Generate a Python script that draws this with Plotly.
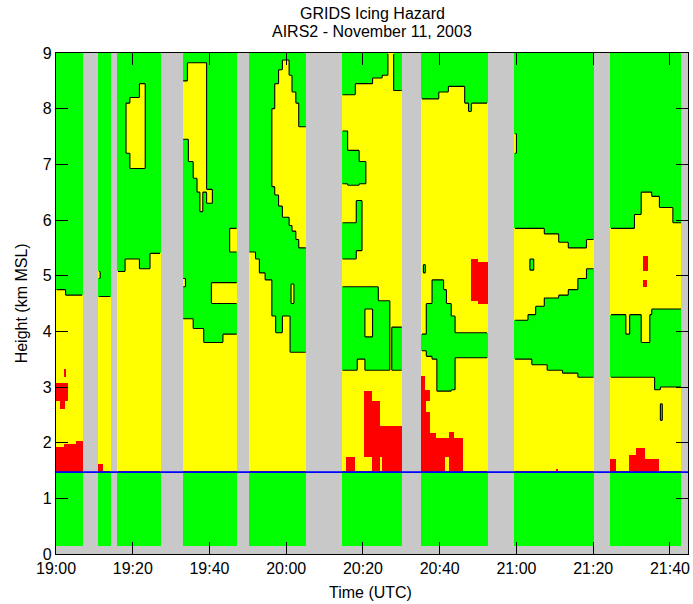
import numpy as np
import plotly.graph_objects as go

# ---------------- data ----------------
tick_minutes = [0, 20, 40, 60, 80, 100, 120, 140, 160]          # minutes after 19:00 UTC
tick_labels = ["19:00", "19:20", "19:40", "20:00", "20:20", "20:40", "21:00", "21:20", "21:40"]
height_ticks = [0, 1, 2, 3, 4, 5, 6, 7, 8, 9]

time_range = [0, 164.7]
height_range = [0, 9]

# profile scans available (minutes after 19:00)
scan_start = [0.0, 11.05, 16.1, 33.0, 50.2, 74.5, 95.3, 119.4, 144.5]
scan_end = [7.05, 14.35, 27.25, 47.25, 65.2, 90.3, 112.4, 140.3, 163.1]
lowest_gate_km = 0.16
highest_gate_km = 9.0
freezing_level_km = 1.47

# hazard category: 1 = none (green), 2 = icing (yellow), 3 = severe icing (red)
# regions: (t_start, t_end, h_bottom, h_top, category), painted in order
scan_A = [
    (0.0, 2.5, 1.47, 4.75, 2), (2.5, 7.05, 1.47, 4.65, 2),
    (0.0, 2.0, 1.47, 1.92, 3), (2.0, 5.3, 1.47, 1.97, 3), (5.3, 7.05, 1.47, 2.03, 3),
    (0.0, 2.95, 2.76, 3.07, 3), (0.9, 2.2, 2.6, 2.76, 3), (2.0, 2.5, 3.18, 3.32, 3),
]
scan_B = [
    (11.05, 14.35, 1.47, 4.62, 2), (11.05, 12.3, 1.47, 1.63, 3), (11.05, 11.6, 4.95, 5.08, 2),
]
scan_C = [
    (16.1, 17.9, 1.47, 5.07, 2), (17.9, 21.8, 1.47, 5.29, 2),
    (21.8, 24.4, 1.47, 5.13, 2), (24.4, 27.25, 1.47, 5.4, 2),
    (18.2, 19.2, 7.2, 8.1, 2), (19.2, 21.8, 6.92, 8.21, 2), (21.8, 23.3, 6.92, 8.45, 2),
]
scan_D = [
    (33.0, 35.7, 1.47, 4.22, 2), (35.7, 38.5, 1.47, 4.05, 2),
    (38.5, 43.5, 1.47, 3.79, 2), (43.5, 47.25, 1.47, 3.95, 2),
    (40.6, 47.25, 4.5, 4.88, 2), (45.2, 47.25, 5.43, 5.85, 2), (33.0, 33.8, 4.8, 4.95, 2),
    (33.0, 34.2, 7.45, 8.5, 2), (34.2, 39.3, 7.45, 8.82, 2), (34.6, 39.3, 7.05, 7.45, 2),
    (35.7, 39.3, 6.75, 7.05, 2), (36.8, 39.3, 6.5, 6.75, 2), (39.3, 40.8, 6.3, 6.55, 2),
    (37.5, 38.3, 6.15, 6.5, 2),
]
scan_E = [
    (50.2, 52.0, 1.47, 5.43, 2), (52.0, 53.0, 1.47, 5.3, 2), (53.0, 54.5, 1.47, 5.05, 2),
    (54.5, 56.2, 1.47, 4.92, 2), (56.2, 57.3, 1.47, 4.28, 2), (57.3, 59.1, 1.47, 3.98, 2),
    (59.1, 61.0, 1.47, 4.28, 2), (61.0, 65.2, 1.47, 3.62, 2),
    (56.2, 57.0, 6.6, 8.0, 2), (57.0, 58.0, 6.45, 8.45, 2), (58.0, 59.0, 6.25, 8.7, 2),
    (59.0, 60.8, 6.05, 8.88, 2), (60.8, 61.5, 5.9, 8.6, 2), (61.5, 62.5, 5.8, 8.3, 2),
    (62.5, 63.3, 5.65, 8.1, 2), (63.3, 65.2, 5.5, 7.67, 2), (61.3, 62.0, 4.5, 4.85, 2),
]
scan_F = [
    (74.5, 78.1, 1.47, 8.25, 2), (78.1, 82.4, 1.47, 8.45, 2), (82.4, 85.0, 1.47, 8.55, 2),
    (85.0, 86.5, 1.47, 8.6, 2), (86.5, 88.0, 1.47, 9.0, 2), (88.0, 90.3, 1.47, 8.33, 2),
    (74.5, 75.9, 6.65, 7.6, 1), (75.9, 79.0, 6.62, 7.25, 1), (79.0, 80.7, 6.65, 7.05, 1),
    (74.5, 78.3, 5.3, 5.95, 1), (78.3, 79.8, 5.45, 6.35, 1),
    (74.5, 78.5, 3.3, 4.8, 1), (78.5, 80.5, 3.5, 4.8, 1), (80.5, 84.0, 3.3, 4.8, 1),
    (80.5, 82.5, 3.9, 4.4, 2), (84.0, 87.0, 3.3, 4.55, 1), (87.5, 90.3, 3.3, 4.08, 1),
    (75.5, 78.1, 1.47, 1.75, 3), (80.3, 82.5, 1.75, 2.93, 3), (82.5, 84.6, 1.47, 2.75, 3),
    (84.6, 85.0, 1.75, 2.3, 3), (85.0, 90.3, 1.47, 2.3, 3),
]
scan_G = [
    (95.3, 99.7, 1.47, 8.17, 2), (99.7, 102.3, 1.47, 8.3, 2), (102.3, 106.6, 1.47, 8.4, 2),
    (106.6, 107.5, 1.47, 8.1, 2), (107.5, 108.3, 1.47, 7.95, 2), (108.3, 112.4, 1.47, 8.1, 2),
    (95.3, 96.6, 3.66, 3.96, 1), (96.6, 97.9, 3.55, 4.5, 1), (97.9, 99.2, 3.49, 4.93, 1),
    (99.2, 101.0, 2.92, 4.93, 1), (101.0, 101.8, 2.92, 4.75, 1), (101.8, 103.1, 2.92, 4.5, 1),
    (103.1, 104.0, 2.95, 4.27, 1), (104.0, 112.4, 3.52, 3.97, 1), (95.8, 96.3, 5.05, 5.2, 1),
    (108.3, 110.0, 4.55, 5.3, 3), (110.0, 112.4, 4.5, 5.25, 3),
    (95.3, 96.3, 1.47, 3.2, 3), (96.3, 97.5, 1.47, 2.95, 3), (96.6, 97.5, 2.55, 2.75, 2),
    (97.5, 98.9, 1.47, 2.17, 3), (98.9, 101.5, 1.47, 2.08, 3), (101.5, 102.4, 1.75, 2.08, 3),
    (102.4, 103.7, 1.47, 2.19, 3), (103.7, 106.1, 1.47, 2.07, 3),
]
scan_H = [
    (119.4, 124.0, 1.47, 3.5, 2), (124.0, 128.0, 1.47, 3.4, 2), (128.0, 132.0, 1.47, 3.3, 2),
    (132.0, 136.0, 1.47, 3.25, 2), (136.0, 140.3, 1.47, 3.17, 2),
    (119.4, 123.0, 4.2, 5.85, 2), (123.0, 125.0, 4.3, 5.85, 2), (125.0, 127.2, 4.45, 5.85, 2),
    (127.2, 130.9, 4.6, 5.75, 2), (130.9, 133.5, 4.65, 5.6, 2), (133.5, 136.0, 4.75, 5.5, 2),
    (136.0, 138.3, 4.95, 5.5, 2), (138.3, 140.3, 5.13, 5.64, 2),
    (123.6, 124.4, 5.1, 5.3, 1), (119.4, 119.9, 7.2, 7.55, 2), (130.3, 130.8, 1.47, 1.53, 3),
]
scan_I = [
    (144.5, 156.0, 1.47, 3.18, 2), (156.0, 157.5, 1.47, 2.95, 2), (157.5, 163.1, 1.47, 3.0, 2),
    (144.5, 150.8, 4.29, 5.85, 2), (150.8, 152.6, 4.29, 6.1, 2), (152.6, 155.2, 4.29, 6.5, 2),
    (155.2, 157.3, 4.4, 6.42, 2), (157.3, 160.8, 4.4, 6.23, 2), (160.8, 163.1, 4.4, 5.94, 2),
    (148.5, 149.5, 3.95, 4.29, 2), (152.5, 154.8, 3.8, 4.29, 2),
    (153.0, 154.3, 5.07, 5.34, 3), (153.0, 154.0, 4.8, 4.92, 3),
    (144.5, 146.1, 1.47, 1.69, 3), (149.5, 151.2, 1.47, 1.77, 3),
    (151.2, 153.4, 1.47, 1.9, 3), (153.4, 157.3, 1.47, 1.69, 3),
    (157.5, 158.0, 2.4, 2.7, 1),
]
scan_regions = [scan_A, scan_B, scan_C, scan_D, scan_E, scan_F, scan_G, scan_H, scan_I]

# ---------------- grid ----------------
dt, dh = 0.25, 0.025
tc = np.arange(dt / 2, time_range[1], dt)
hc = np.arange(dh / 2, highest_gate_km, dh)
z = np.zeros((len(hc), len(tc)))
rows_valid = (hc >= lowest_gate_km) & (hc < highest_gate_km)
scan_cols = []
for s, e, regs in zip(scan_start, scan_end, scan_regions):
    cols = (tc >= s) & (tc < e)
    scan_cols.append(cols)
    z[np.ix_(rows_valid, cols)] = 1
    for (t0, t1, h0, h1, cat) in regs:
        c = cols & (tc >= t0) & (tc < t1)
        r = rows_valid & (hc >= h0) & (hc < h1)
        z[np.ix_(r, c)] = cat

GRAY, GREEN, YELLOW, RED = "#c8c8c8", "#00ff00", "#ffff00", "#ff0000"
cscale = [[0, GRAY], [1 / 6, GRAY], [1 / 6, GREEN], [0.5, GREEN],
          [0.5, YELLOW], [5 / 6, YELLOW], [5 / 6, RED], [1, RED]]

fig = go.Figure()
fig.add_trace(go.Heatmap(z=z, x0=dt / 2, dx=dt, y0=dh / 2, dy=dh, zmin=0, zmax=3,
                         colorscale=cscale, showscale=False, hoverinfo="skip"))
for cols in scan_cols:
    fig.add_trace(go.Contour(z=z[:, cols], x=tc[cols], y=hc, autocontour=False,
                             contours=dict(start=1.5, end=1.5, size=1, coloring="none"),
                             line=dict(color="black", width=1.1, smoothing=0),
                             showscale=False, hoverinfo="skip"))

FONT = "Liberation Sans, Arial, sans-serif"
fig.add_shape(type="line", xref="paper", x0=0, x1=1, yref="y",
              y0=freezing_level_km, y1=freezing_level_km,
              line=dict(color="#0000ff", width=1.8), layer="above")

fig.update_layout(
    width=693, height=604, autosize=False,
    margin=dict(l=56, r=3, t=53, b=50),
    paper_bgcolor="white", plot_bgcolor=GRAY,
    font=dict(family=FONT, size=16, color="black"),
    showlegend=False,
    xaxis=dict(range=time_range, tickvals=tick_minutes, ticktext=tick_labels,
               ticks="inside", ticklen=12, tickcolor="black", tickwidth=1.2,
               showline=True, linecolor="black", linewidth=1.2, mirror="ticks",
               showgrid=False, zeroline=False, tickfont=dict(size=16)),
    yaxis=dict(range=height_range, tickvals=height_ticks,
               ticks="inside", ticklen=12, tickcolor="black", tickwidth=1.2,
               showline=True, linecolor="black", linewidth=1.2, mirror="ticks",
               showgrid=False, zeroline=False, tickfont=dict(size=16)),
    annotations=[
        dict(text="GRIDS Icing Hazard", xref="paper", yref="paper", x=0.5, y=1.078,
             showarrow=False, font=dict(size=16), xanchor="center", yanchor="middle"),
        dict(text="AIRS2 - November 11, 2003", xref="paper", yref="paper", x=0.5, y=1.042,
             showarrow=False, font=dict(size=16), xanchor="center", yanchor="middle"),
        dict(text="Time (UTC)", xref="paper", yref="paper", x=0.498, y=-0.076,
             showarrow=False, font=dict(size=16), xanchor="center", yanchor="middle"),
        dict(text="Height (km MSL)", xref="paper", yref="paper", x=-0.054, y=0.5,
             showarrow=False, font=dict(size=16), textangle=-90,
             xanchor="center", yanchor="middle"),
    ],
)

fig.write_html("out.html", config={"displayModeBar": False},
               post_script="document.body.style.margin='0';document.body.style.overflow='hidden';")
